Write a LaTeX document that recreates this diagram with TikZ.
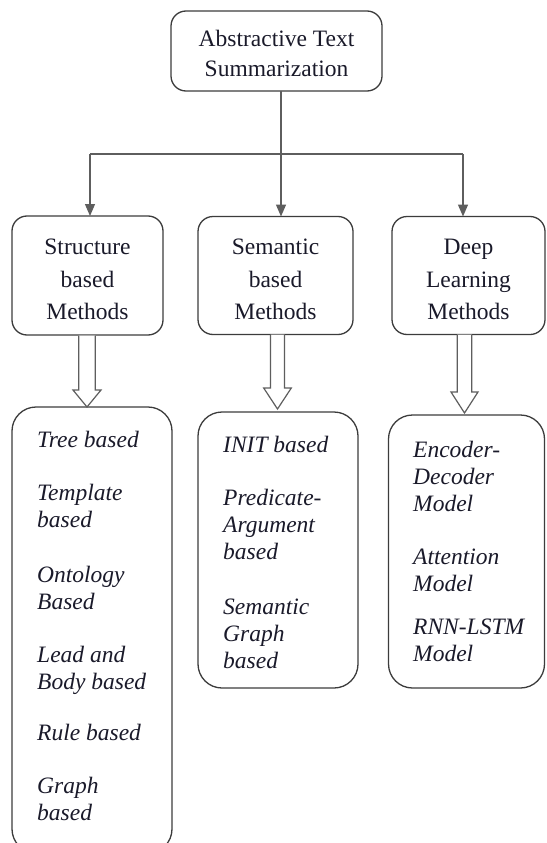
\documentclass[tikz,border=0pt]{standalone}
\usepackage{fontspec}
\setmainfont{Liberation Serif}
\usetikzlibrary{arrows.meta}
\definecolor{boxline}{HTML}{3C3C3C}
\definecolor{conn}{HTML}{5E5E5E}
\definecolor{txt}{HTML}{1A1A2A}
\tikzset{
  x=1pt, y=-1pt,
  headbox/.style={draw=boxline, line width=1.3pt, rounded corners=15pt, fill=white,
    inner sep=0pt, outer sep=0pt},
  headtext/.style={inner sep=0pt, align=center, text=txt,
    font=\fontsize{23.5}{32.5}\selectfont},
  listbox/.style={draw=boxline, line width=1.3pt, rounded corners=24pt, inner sep=0pt, outer sep=0pt},
  item/.style={anchor=base west, align=left, inner sep=0pt, text=txt,
    font=\fontsize{23.5}{27}\selectfont\itshape},
  conline/.style={draw=conn, line width=1.3pt},
  arr/.style={conline, -{Triangle[width=10pt,length=12pt]}, fill=conn},
  blk/.style={draw=conn, line width=1.2pt, fill=white, line join=miter},
}
\newcommand{\blockarrow}[6]{% cx, ytop, ybase, ytip, shaft half, head half
  \draw[blk] ({#1-#5},#2) -- ({#1-#5},#3) -- ({#1-#6},#3) -- (#1,#4) -- ({#1+#6},#3)
    -- ({#1+#5},#3) -- ({#1+#5},#2);}
\begin{document}
\begin{tikzpicture}
\useasboundingbox (0,0) rectangle (546,843);
\fill[white] (0,0) rectangle (546,843);

% top box
\node[headbox, minimum width=211pt, minimum height=80pt] (top) at (276.5,51) {};
\node[headtext, font=\fontsize{23.5}{30}\selectfont] (topT) at (276.5,53)
  {Abstractive Text\\Summarization};

% category boxes
\node[headbox, minimum width=151pt, minimum height=119pt] (struct) at (87.5,275.5) {};
\node[headtext] (structT) at (87.5,279.5) {Structure\\based\\Methods};
\node[headbox, minimum width=155pt, minimum height=118pt] (sem) at (275.5,275.5) {};
\node[headtext] (semT) at (275.5,279.5) {Semantic\\based\\Methods};
\node[headbox, minimum width=153pt, minimum height=118pt] (deep) at (468.5,275.5) {};
\node[headtext] (deepT) at (468.5,279.5) {Deep\\Learning\\Methods};

% connectors
\coordinate (junc) at (281,154);
\coordinate (hl) at (90,154);
\coordinate (hr) at (463,154);
\draw[conline] (top.south -| junc) -- (junc);
\draw[conline] (hl) -- (hr);
\draw[arr] (hl) -- (hl |- struct.north);
\draw[arr] (junc) -- (junc |- sem.north);
\draw[arr] (hr) -- (hr |- deep.north);

% list boxes
\node[listbox, minimum width=160pt, minimum height=446pt] (lstruct) at (92,630) {};
\node[listbox, minimum width=160pt, minimum height=276pt] (lsem) at (278,550) {};
\node[listbox, minimum width=156pt, minimum height=273pt] (ldeep) at (466.5,551.5) {};

% block arrows
\blockarrow{87}{335.5}{390}{407}{8.3}{14}
\blockarrow{277.5}{334.5}{388}{409}{7}{13.8}
\blockarrow{464.5}{334.5}{392}{413}{7.3}{13.5}

% items: structure based (anchored at baseline of last line)
\node[item] (t1) at (37,447) {Tree based};
\node[item] (t2) at (37,527) {Template\\based};
\node[item] (t3) at (37,609) {Ontology\\Based};
\node[item] (t4) at (37,689) {Lead and\\Body based};
\node[item] (t5) at (37,740) {Rule based};
\node[item] (t6) at (37,820) {Graph\\based};

% items: semantic based
\node[item] (s1) at (223,452) {INIT based};
\node[item] (s2) at (223,559) {Predicate-\\Argument\\based};
\node[item] (s3) at (223,668) {Semantic\\Graph\\based};

% items: deep learning
\node[item] (d1) at (413,511) {Encoder-\\Decoder\\Model};
\node[item] (d2) at (413,591) {Attention\\Model};
\node[item] (d3) at (413,661) {RNN-LSTM\\Model};
\end{tikzpicture}
\end{document}
